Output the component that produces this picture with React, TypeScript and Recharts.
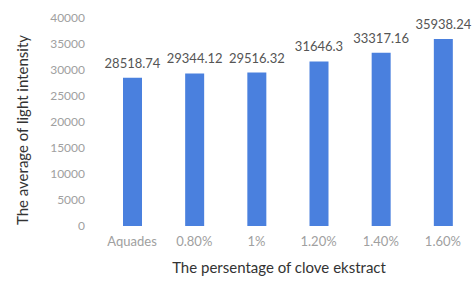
import React from "react";
import { BarChart, Bar, XAxis, YAxis, LabelList, Label } from "recharts";

const categories = ["Aquades", "0.80%", "1%", "1.20%", "1.40%", "1.60%"];
const values = [28518.74, 29344.12, 29516.32, 31646.3, 33317.16, 35938.24];
const valueLabels = ["28518.74", "29344.12", "29516.32", "31646.3", "33317.16", "35938.24"];
const yTicks = [0, 5000, 10000, 15000, 20000, 25000, 30000, 35000, 40000];
const yTitle = "The average of light intensity";
const xTitle = "The persentage of clove ekstract";

const data = categories.map((c, i) => ({ name: c, value: values[i], label: valueLabels[i] }));

const FONT = "Lato, 'Open Sans', sans-serif";

export default function App() {
  return (
    <div style={{ position: "fixed", left: 0, top: 0, width: 476, height: 283, background: "#fff" }}>
      <BarChart
        width={476}
        height={283}
        data={data}
        margin={{ top: 18, right: 2, bottom: 0, left: 0 }}
      >
        <YAxis
          width={101}
          domain={[0, 40000]}
          ticks={yTicks}
          interval={0}
          axisLine={false}
          tickLine={false}
          tickMargin={10}
          tick={{ fill: "#a0a0a0", fontSize: 12, fontFamily: FONT }}
        >
          <Label
            content={() => (
              <text
                x={22}
                y={130}
                transform="rotate(-90 22 130)"
                textAnchor="middle"
                dominantBaseline="central"
                fill="#333"
                fontSize={15}
                fontFamily={FONT}
              >
                {yTitle}
              </text>
            )}
          />
        </YAxis>
        <XAxis
          dataKey="name"
          height={57}
          axisLine={false}
          tickLine={false}
          tickMargin={5}
          interval={0}
          tick={{ fill: "#a0a0a0", fontSize: 13, fontFamily: FONT }}
        >
          <Label
            content={() => (
              <text
                x={279}
                y={267}
                textAnchor="middle"
                dominantBaseline="central"
                fill="#333"
                fontSize={15}
                fontFamily={FONT}
              >
                {xTitle}
              </text>
            )}
          />
        </XAxis>
        <Bar dataKey="value" fill="#4a80de" barSize={19} isAnimationActive={false}>
          <LabelList
            dataKey="label"
            position="top"
            offset={10}
            style={{ fill: "#555", fontSize: 13, fontFamily: FONT }}
          />
        </Bar>
      </BarChart>
    </div>
  );
}
